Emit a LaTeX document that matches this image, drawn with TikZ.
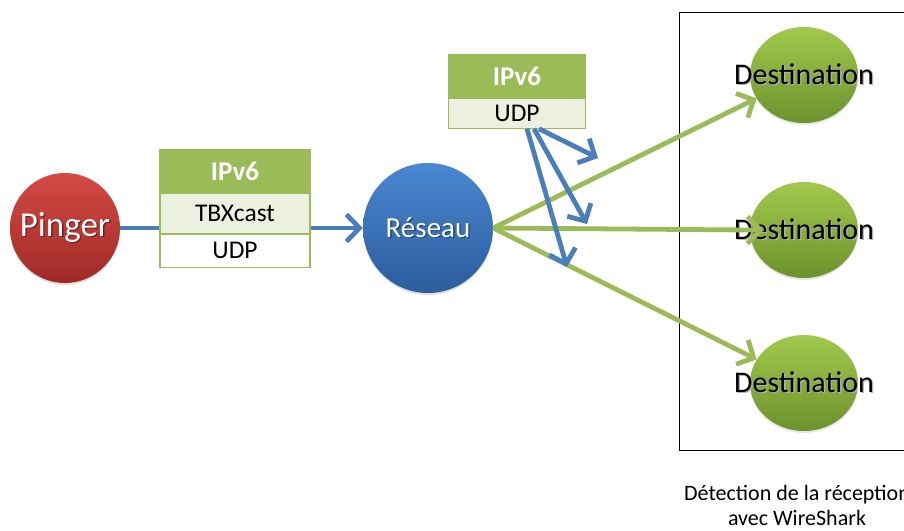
\documentclass[tikz,border=0pt]{standalone}
\usepackage{fontspec}
\setmainfont{Carlito}
\usepackage{tikz}
\usetikzlibrary{positioning, arrows.meta, shapes.geometric, calc, shadows}
\usepackage{xcolor}

\definecolor{lineblue}{HTML}{4A7EBB}
\definecolor{linegreen}{HTML}{9BBB59}
\definecolor{rowgreen}{HTML}{EBF1DE}
\definecolor{pingtop}{HTML}{D44A44}
\definecolor{pingbot}{HTML}{A02A27}
\definecolor{nettop}{HTML}{4A87D2}
\definecolor{netbot}{HTML}{2C5D9C}
\definecolor{dsttop}{HTML}{A2C94C}
\definecolor{dstbot}{HTML}{6C922D}

% label centred on zero width, with a soft grey copy behind it
\newcommand{\shadowed}[2]{\makebox[0pt]{\makebox[0pt]{\raisebox{-1.3pt}{\hspace*{2.6pt}\textcolor{#1}{#2}}}\makebox[0pt]{#2}}}

\begin{document}
\begin{tikzpicture}[x=1pt, y=-1pt,
    host/.style={circle, inner sep=0pt, text=white,
        drop shadow={opacity=0.25, shadow xshift=0pt, shadow yshift=-2pt}},
    dest/.style={ellipse, inner sep=0pt, minimum width=108pt, minimum height=96pt,
        top color=dsttop, bottom color=dstbot, font=\fontsize{30}{32}\selectfont,
        drop shadow={opacity=0.2, shadow xshift=0pt, shadow yshift=-2pt}},
    hdrrow/.style={rectangle, draw=linegreen, line width=1.2pt, fill=linegreen, inner sep=0pt,
        text=white, font=\fontsize{27}{29}\selectfont\bfseries},
    datarow/.style={rectangle, draw=linegreen, line width=1.2pt, inner sep=0pt,
        font=\fontsize{25.5}{27}\selectfont},
    bluearrow/.style={lineblue, line width=4.8pt, -{Straight Barb[length=13pt, width=27pt]}},
    greenarrow/.style={linegreen, line width=4.8pt, -{Straight Barb[length=13pt, width=27pt]}},
]
    \useasboundingbox (0,0) rectangle (904,530);

    % sender and network
    \node[host, minimum size=110pt, top color=pingtop, bottom color=pingbot,
        font=\fontsize{35}{37}\selectfont] (pinger) at (65,228) {\shadowed{pingbot!70!black}{Pinger}};
    \node[host, minimum size=130pt, top color=nettop, bottom color=netbot,
        font=\fontsize{29}{31}\selectfont] (reseau) at (428,228) {\shadowed{netbot!75!black}{Réseau}};

    \draw[bluearrow] (pinger) -- (reseau);

    % packet sent by the pinger
    \node[hdrrow, minimum width=150pt, minimum height=42pt] (ip1) at (235,171) {IPv6};
    \node[datarow, fill=rowgreen, minimum width=150pt, minimum height=40pt, below=0pt of ip1] (tbx1) {TBXcast};
    \node[datarow, fill=white, minimum width=150pt, minimum height=33pt, below=0pt of tbx1] (udp1) {UDP};

    % receivers, watched with WireShark
    \draw[black, line width=1pt] (679,12) rectangle (920,450);
    \node[dest] (dst1) at (804,75) {\shadowed{black!30}{Destination}};
    \node[dest] (dst2) at (804,230) {\shadowed{black!30}{Destination}};
    \node[dest] (dst3) at (804,383) {\shadowed{black!30}{Destination}};

    \draw[greenarrow] (reseau.east) -- (dst1);
    \draw[greenarrow, shorten >=-14pt] (reseau.east) -- (dst2.west);
    \draw[greenarrow] (reseau.east) -- (dst3);

    % packet once past the network
    \node[hdrrow, minimum width=137pt, minimum height=42pt] (ip2) at (517,76) {IPv6};
    \node[datarow, fill=rowgreen, minimum width=137pt, minimum height=30pt, below=0pt of ip2] (udp2) {UDP};

    \coordinate (fan1) at (598,158);
    \coordinate (fan2) at (587,224);
    \coordinate (fan3) at (567,267);
    \draw[bluearrow] ($(udp2.south)+(22,0)$) -- (fan1);
    \draw[bluearrow] ($(udp2.south)+(17,0)$) -- (fan2);
    \draw[bluearrow] ($(udp2.south)+(10,0)$) -- (fan3);

    \node[font=\fontsize{22}{25}\selectfont, align=center] (caption) at (797,505)
        {Détection de la réception\\avec WireShark};
\end{tikzpicture}
\end{document}
